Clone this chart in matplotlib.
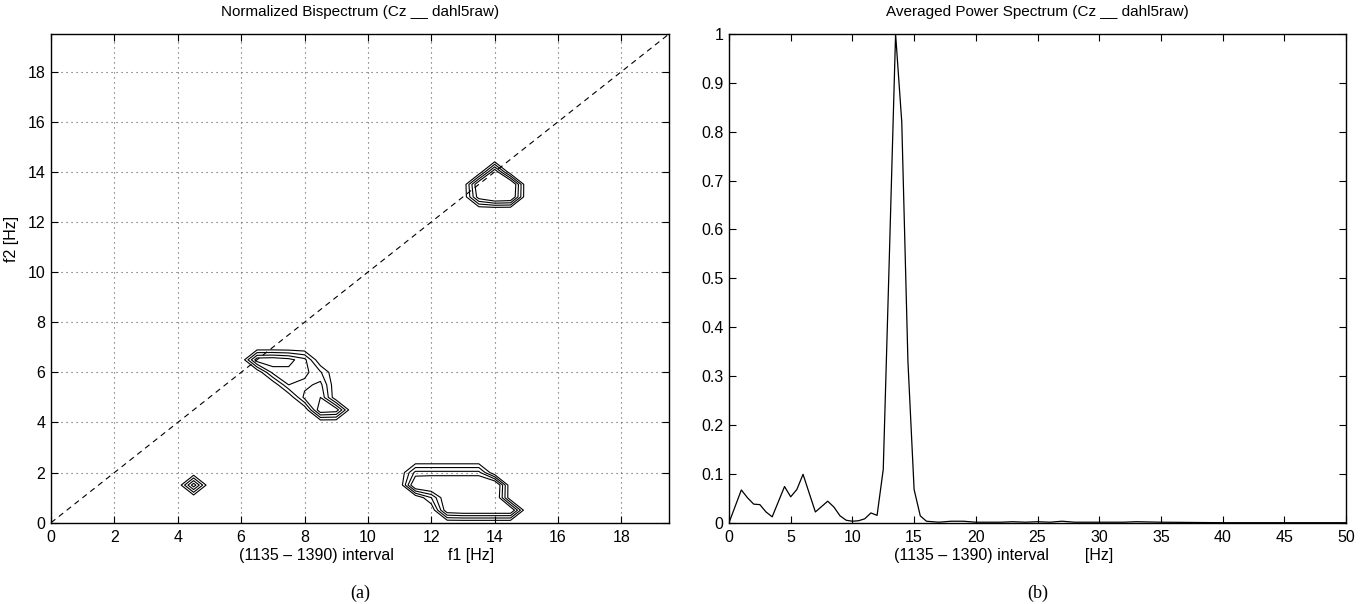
import numpy as np
import matplotlib
matplotlib.use("Agg")
import matplotlib.pyplot as plt

plt.rcParams['font.family'] = ['Liberation Sans', 'DejaVu Sans']

# --- normalized bispectrum, nonzero cells on a 0.5 Hz grid (f1, f2, value)
bis_f1 = [13.5, 14.0, 14.5, 13.5, 14.0, 14.5, 14.0,
          4.5,
          6.5, 7.0, 7.5, 8.0, 7.0, 7.5, 8.0, 8.5, 7.5, 8.0, 8.5, 8.0, 8.5, 8.5, 9.0,
          11.5, 12.0, 12.5, 13.0, 13.5,
          11.5, 12.0, 12.5, 13.0, 13.5, 14.0,
          12.0, 12.5, 13.0, 13.5, 14.0,
          12.5, 13.0, 13.5, 14.0, 14.5]
bis_f2 = [13.0, 13.0, 13.0, 13.5, 13.5, 13.5, 14.0,
          1.5,
          6.5, 6.5, 6.5, 6.5, 6.0, 6.0, 6.0, 6.0, 5.5, 5.5, 5.5, 5.0, 5.0, 4.5, 4.5,
          2.0, 2.0, 2.0, 2.0, 2.0,
          1.5, 1.5, 1.5, 1.5, 1.5, 1.5,
          1.0, 1.0, 1.0, 1.0, 1.0,
          0.5, 0.5, 0.5, 0.5, 0.5]
bis_val = [0.7, 0.9, 0.85, 0.8, 1.0, 0.9, 0.75,
           0.7,
           0.7, 0.72, 0.66, 0.5, 0.5, 0.55, 0.5, 0.32, 0.45, 0.4, 0.5, 0.5, 0.6, 0.75, 0.7,
           0.5, 0.5, 0.5, 0.5, 0.5,
           0.85, 0.9, 0.9, 0.9, 0.9, 0.9,
           0.3, 0.8, 0.85, 0.85, 0.85,
           0.75, 0.8, 0.8, 0.8, 0.8]
levels = [0.15, 0.3, 0.45, 0.6]

# --- averaged power spectrum
freq = [0, 1.0, 1.5, 2.0, 2.5, 3.0, 3.5, 4.5, 5.0, 5.5, 6.0, 7.0, 8.0, 8.5, 9.0,
        9.5, 10.0, 10.5, 11.0, 11.5, 12.0, 12.5, 13.0, 13.5, 14.0, 14.5, 15.0,
        15.5, 16.0, 17.0, 18.0, 19.0, 20.0, 22.0, 23.0, 24.0, 25.0, 26.0, 27.0,
        28.0, 30.0, 32.0, 33.0, 35.0, 40.0, 45.0, 50.0]
power = [0, 0.067, 0.051, 0.038, 0.037, 0.022, 0.012, 0.074, 0.053, 0.068, 0.099,
         0.022, 0.044, 0.032, 0.014, 0.005, 0.003, 0.004, 0.008, 0.02, 0.015,
         0.109, 0.55, 1.0, 0.82, 0.33, 0.068, 0.014, 0.003, 0.001, 0.003, 0.003,
         0.001, 0.001, 0.002, 0.001, 0.002, 0.001, 0.003, 0.001, 0.001, 0.001,
         0.002, 0.001, 0.0, 0.0, 0.0]

title_a = 'Normalized Bispectrum (Cz __ dahl5raw)'
title_b = 'Averaged Power Spectrum (Cz __ dahl5raw)'
xlab_a = '(1135 \u2013 1390) interval            f1 [Hz]'
xlab_b = '(1135 \u2013 1390) interval        [Hz]'

W, H = 1366, 604
fig = plt.figure(figsize=(W / 100, H / 100), dpi=100)
ax1 = fig.add_axes([51 / W, 1 - 522.7 / H, (669 - 51) / W, (522.7 - 34) / H])
ax2 = fig.add_axes([729 / W, 1 - 522.7 / H, (1346 - 729) / W, (522.7 - 34) / H])

# build bispectrum grid
grid = np.arange(0, 20.01, 0.5)
Z = np.zeros((len(grid), len(grid)))
for a, b, v in zip(bis_f1, bis_f2, bis_val):
    Z[int(round(b / 0.5)), int(round(a / 0.5))] = v

ax1.contour(grid, grid, Z, levels=levels, colors='black', linewidths=0.8)
ax1.axline((0, 0), slope=1, color='black', lw=0.8, dashes=(5, 4))
ax1.set_xlim(0, 19.5)
ax1.set_ylim(0, 19.5)
ax1.set_xticks(range(0, 19, 2))
ax1.set_yticks(range(0, 19, 2))
ax1.grid(True, color='0.35', linestyle=(0, (1, 3.5)), linewidth=0.8)
ax1.set_title(title_a, fontsize=11, pad=13)
ax1.set_xlabel(xlab_a, fontsize=11.5)
ax1.xaxis.set_label_coords(0.51, -0.052, transform=ax1.transAxes)
ax1.set_ylabel('f2 [Hz]', fontsize=11.5)
ax1.yaxis.set_label_coords(-0.052, 0.58)

ax2.plot(freq, power, color='black', lw=0.9)
ax2.set_xlim(0, 50)
ax2.set_ylim(0, 1)
ax2.set_xticks(range(0, 51, 5))
yt = [0, 0.1, 0.2, 0.3, 0.4, 0.5, 0.6, 0.7, 0.8, 0.9, 1]
ax2.set_yticks(yt)
ax2.set_yticklabels(['0', '0.1', '0.2', '0.3', '0.4', '0.5', '0.6', '0.7', '0.8', '0.9', '1'])
ax2.set_title(title_b, fontsize=11, pad=13)
ax2.set_xlabel(xlab_b, fontsize=11.5)
ax2.xaxis.set_label_coords(0.445, -0.052, transform=ax2.transAxes)

for ax in (ax1, ax2):
    ax.tick_params(direction='in', top=True, right=True, length=5, width=0.8,
                   labelsize=11.5, pad=5)
    ax.tick_params(axis='y', pad=4)
    for s in ax.spines.values():
        s.set_linewidth(1.0)

fig.text(360 / W, 1 - 593 / H, '(a)', ha='center', va='center',
         family='Liberation Serif', fontsize=13)
fig.text(1037.5 / W, 1 - 593 / H, '(b)', ha='center', va='center',
         family='Liberation Serif', fontsize=13)

fig.savefig('out.png', dpi=100)
